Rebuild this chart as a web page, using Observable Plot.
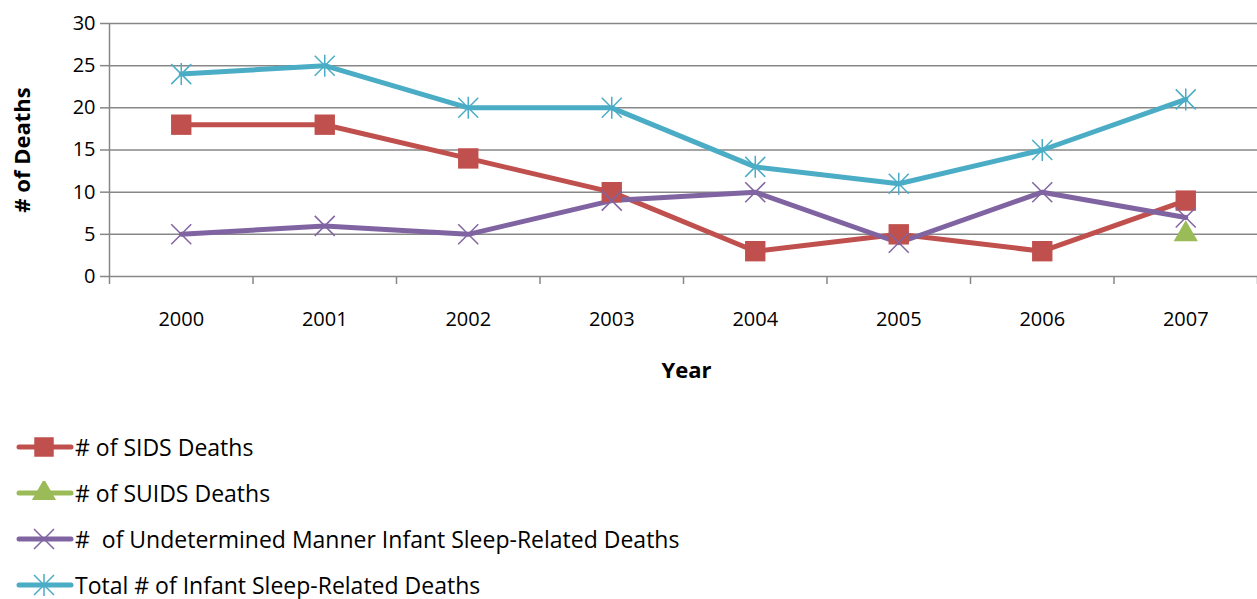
<!DOCTYPE html>
<html>
<head>
<meta charset="utf-8">
<script src="https://cdn.jsdelivr.net/npm/d3@7"></script>
<script src="https://cdn.jsdelivr.net/npm/@observablehq/plot@0.6"></script>
<style>
  html, body { margin: 0; padding: 0; background: #fff; }
  body { width: 1257px; height: 599px; overflow: hidden; font-family: "Open Sans", sans-serif; }
  #legend { margin-top: 24px; }
  .item { display: flex; align-items: center; height: 46px; padding-left: 16px; font-size: 23px; color: #000; white-space: pre; }
  .item svg { margin-right: 1px; }
</style>
</head>
<body>
<div id="chart"></div>
<div id="legend"></div>
<script>
// Infant sleep-related deaths by year
const years = [2000, 2001, 2002, 2003, 2004, 2005, 2006, 2007];
const sidsDeaths = [18, 18, 14, 10, 3, 5, 3, 9];
const suidsYears = [2007];
const suidsDeaths = [5];
const undeterminedDeaths = [5, 6, 5, 9, 10, 4, 10, 7];
const totalDeaths = [24, 25, 20, 20, 13, 11, 15, 21];
const yTicks = [0, 5, 10, 15, 20, 25, 30];

const seriesNames = [
  "# of SIDS Deaths",
  "# of SUIDS Deaths",
  "#  of Undetermined Manner Infant Sleep-Related Deaths",
  "Total # of Infant Sleep-Related Deaths"
];
const colors = ["#C0504D", "#9BBB59", "#8064A2", "#4BACC6"];

const toRows = (xs, ys) => xs.map((x, i) => ({year: x, value: ys[i]}));
const sids = toRows(years, sidsDeaths);
const suids = toRows(suidsYears, suidsDeaths);
const undetermined = toRows(years, undeterminedDeaths);
const total = toRows(years, totalDeaths);

// Category boundaries for the x-axis tick marks
const boundaries = [...years.map(y => y - 0.5), years[years.length - 1] + 0.5];

// Star marker: an X with a vertical stroke through it
const star = {
  draw(ctx, size) {
    const r = Math.sqrt(size / Math.PI);
    ctx.moveTo(-r, -r); ctx.lineTo(r, r);
    ctx.moveTo(-r, r); ctx.lineTo(r, -r);
    ctx.moveTo(0, -r * 1.1); ctx.lineTo(0, r * 1.1);
  }
};
const cross = {
  draw(ctx, size) {
    const r = Math.sqrt(size / Math.PI);
    ctx.moveTo(-r, -r); ctx.lineTo(r, r);
    ctx.moveTo(-r, r); ctx.lineTo(r, -r);
  }
};

const fontFamily = '"Open Sans", sans-serif';
const gridColor = "#878787";

const chart = Plot.plot({
  width: 1257,
  height: 400,
  marginLeft: 109,
  marginRight: 0,
  marginTop: 23,
  marginBottom: 124,
  style: {fontFamily, fontSize: "20px", color: "#000", background: "#fff"},
  x: {type: "linear", domain: [years[0] - 0.5, years[years.length - 1] + 0.5]},
  y: {domain: [0, 30]},
  marks: [
    Plot.ruleY(yTicks, {stroke: gridColor, strokeWidth: 1.5}),
    Plot.ruleX([boundaries[0]], {stroke: gridColor, strokeWidth: 1.5}),
    Plot.axisY(yTicks, {tickSize: 9, stroke: gridColor, strokeWidth: 1.5, tickPadding: 5, label: null, fill: "#000", fontSize: 20}),
    Plot.axisX(boundaries, {tickSize: 8, stroke: gridColor, strokeWidth: 1.5, tickFormat: () => "", label: null}),
    Plot.axisX(years, {tickSize: 0, tickPadding: 35, tickFormat: d => String(d), label: null, fill: "#000", fontSize: 20}),
    Plot.text(["Year"], {frameAnchor: "bottom", dy: 101, dx: 3, fontWeight: "bold", fontSize: 22, fill: "#000"}),
    Plot.text(["# of Deaths"], {frameAnchor: "left", dx: -87, rotate: -90, textAnchor: "middle", fontWeight: "bold", fontSize: 22, fill: "#000"}),

    Plot.line(total, {x: "year", y: "value", stroke: colors[3], strokeWidth: 5}),
    Plot.line(sids, {x: "year", y: "value", stroke: colors[0], strokeWidth: 5}),
    Plot.line(undetermined, {x: "year", y: "value", stroke: colors[2], strokeWidth: 5}),

    Plot.dot(total, {x: "year", y: "value", symbol: star, r: 10, fill: "none", stroke: colors[3], strokeWidth: 1.5}),
    Plot.dot(sids, {x: "year", y: "value", symbol: "square", r: 11.5, fill: colors[0], stroke: "none"}),
    Plot.dot(suids, {x: "year", y: "value", symbol: "triangle", r: 9, fill: colors[1], stroke: "none"}),
    Plot.dot(undetermined, {x: "year", y: "value", symbol: cross, r: 10, fill: "none", stroke: colors[2], strokeWidth: 1.5})
  ]
});
document.getElementById("chart").appendChild(chart);

// Legend rows: line sample with marker, then series name
const markerSymbols = ["square", "triangle", cross, star];
const legend = d3.select("#legend");
seriesNames.forEach((name, i) => {
  const row = legend.append("div").attr("class", "item");
  const svg = row.append("svg").attr("width", 58).attr("height", 24);
  svg.append("line")
    .attr("x1", 3).attr("x2", 55).attr("y1", 12).attr("y2", 12)
    .attr("stroke", colors[i]).attr("stroke-width", 5).attr("stroke-linecap", "round");
  const sym = markerSymbols[i];
  const filled = typeof sym === "string";
  const path = filled
    ? d3.symbol(sym === "square" ? d3.symbolSquare : d3.symbolTriangle, Math.PI * (sym === "square" ? 11 * 11 : 9 * 9))()
    : d3.symbol(sym, Math.PI * 10 * 10)();
  svg.append("path")
    .attr("transform", "translate(28,12)")
    .attr("d", path)
    .attr("fill", filled ? colors[i] : "none")
    .attr("stroke", filled ? "none" : colors[i])
    .attr("stroke-width", 1.5);
  row.append("span").text(name);
});
</script>
</body>
</html>
